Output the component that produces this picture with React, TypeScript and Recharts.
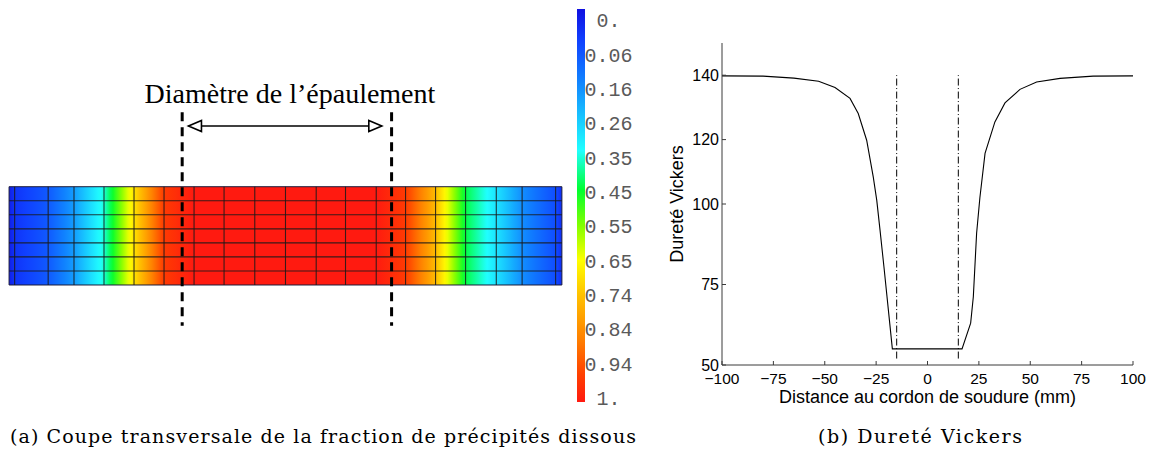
import React from 'react';
import {
  ComposedChart,
  LineChart,
  Line,
  XAxis,
  YAxis,
  ReferenceLine,
  ReferenceArea,
  ReferenceDot,
  Label,
} from 'recharts';

// ---------- (b) Vickers hardness profile ----------
const hardnessX = [-100, -80, -65, -53, -45, -37.7, -33.7, -29.6, -26.4, -24.7, -23.1, -21.2, -17.1, 16.8, 21, 22.3, 23.9, 25.5, 28, 32.8, 37.7, 45, 53.1, 64.5, 80.6, 100];
const hardnessY = [139.8, 139.7, 139.1, 138.1, 136.2, 132.8, 128.1, 119.8, 108.4, 101.2, 91.9, 80.5, 55, 55, 63, 71.2, 90.9, 102, 115.7, 125.5, 131.4, 135.6, 137.9, 139, 139.7, 139.8];
const hardnessTicksX = [-100, -75, -50, -25, 0, 25, 50, 75, 100];
const hardnessTicksY = [50, 75, 100, 120, 140];
const shoulderHalfWidth = [-15, 15];
const shoulderMarkRange = [52, 140];

// ---------- (a) cross section: mesh and dissolved-precipitate fraction ----------
const meshNodeX = [-39.6, -38.8, -34.0, -30.3, -26.0, -21.7, -17.4, -13.1, -8.8, -4.4, 0, 4.4, 8.6, 13.0, 17.2, 21.5, 25.8, 30.2, 33.9, 38.7, 39.6];
const nodeFraction = [0.02, 0.06, 0.12, 0.22, 0.38, 0.68, 0.94, 1, 1, 1, 1, 1, 1, 1, 0.94, 0.74, 0.45, 0.32, 0.2, 0.1, 0.05];
const meshRowY = [0, 2, 4, 6, 8, 10, 12, 14];
const shoulderEdgesX = [-14.8, 15.2];
const shoulderDashRange = [-5.8, 24.6];
const arrowEndsX = [-13.9, 13.8];
const arrowY = 22.65;
const titleAnchor = { x: 0.64, y: 27.3 };

// colour legend
const legendLabels = ['0.', '0.06', '0.16', '0.26', '0.35', '0.45', '0.55', '0.65', '0.74', '0.84', '0.94', '1.'];
const legendIndex = legendLabels.map((_, i) => i);

// colour map (fraction -> colour)
const cmapT = [0, 0.08, 0.18, 0.28, 0.36, 0.46, 0.55, 0.64, 0.73, 0.84, 0.93, 1];
const cmapRGB = [
  [16, 16, 224], [16, 64, 255], [16, 128, 255], [24, 200, 255], [32, 255, 255], [0, 255, 48],
  [128, 255, 0], [255, 255, 0], [255, 192, 0], [255, 128, 0], [255, 64, 0], [255, 26, 16],
];

// captions
const captionA = '(a) Coupe transversale de la fraction de précipités dissous';
const captionB = '(b) Dureté Vickers';

function colorAt(v: number): string {
  const t = Math.max(0, Math.min(1, v));
  let i = 0;
  while (i < cmapT.length - 2 && t > cmapT[i + 1]) i++;
  const f = (t - cmapT[i]) / (cmapT[i + 1] - cmapT[i]);
  const c = cmapRGB[i].map((a, k) => Math.round(a + (cmapRGB[i + 1][k] - a) * f));
  return `rgb(${c[0]},${c[1]},${c[2]})`;
}

const hardnessData = hardnessX.map((x, i) => ({ x, hv: hardnessY[i] }));
const meshData = meshNodeX.map((x, i) => ({ x, v: nodeFraction[i] }));
const legendData = legendIndex.map((i) => ({ i, c: i % 2 }));

function plateStops() {
  const x0 = meshNodeX[0];
  const xN = meshNodeX[meshNodeX.length - 1];
  const stops: { o: number; c: string }[] = [];
  for (let i = 0; i < meshNodeX.length - 1; i++) {
    const sub = 10;
    for (let k = 0; k <= sub; k++) {
      const x = meshNodeX[i] + ((meshNodeX[i + 1] - meshNodeX[i]) * k) / sub;
      const v = nodeFraction[i] + ((nodeFraction[i + 1] - nodeFraction[i]) * k) / sub;
      stops.push({ o: (x - x0) / (xN - x0), c: colorAt(v) });
    }
  }
  return stops;
}

const DoubleArrow = (props: any) => {
  const { x1, y1, x2, y2 } = props;
  const h = 13;
  const w = 5.5;
  const l = Math.min(x1, x2);
  const r = Math.max(x1, x2);
  return (
    <g>
      <line x1={l} y1={y1} x2={r} y2={y2} stroke="#000" strokeWidth={1.6} />
      <polygon points={`${l},${y1} ${l + h},${y1 - w} ${l + h},${y1 + w}`} fill="#fff" stroke="#000" strokeWidth={1.6} />
      <polygon points={`${r},${y2} ${r - h},${y2 - w} ${r - h},${y2 + w}`} fill="#fff" stroke="#000" strokeWidth={1.6} />
    </g>
  );
};

const LegendTick = (props: any) => {
  const { x, y, payload } = props;
  return (
    <text x={x + 23.5} y={y} dy="0.36em" textAnchor="middle" fontFamily="'Liberation Mono', 'DejaVu Sans Mono', monospace" fontSize={20} fill="#5a5a5a">
      {legendLabels[payload.value]}
    </text>
  );
};

const minusFmt = (v: number) => String(v).replace('-', '\u2212');

export default function App() {
  const stops = plateStops();
  const axisColor = '#3a3a3a';
  return (
    <div style={{ position: 'absolute', left: 0, top: 0, width: 1151, height: 455, background: '#fff', overflow: 'hidden', fontFamily: "'Liberation Sans', Arial, sans-serif" }}>
      {/* (a) cross section */}
      <div style={{ position: 'absolute', left: 0, top: 0 }}>
        <ComposedChart width={570} height={455} data={meshData} margin={{ top: 0, right: 0, bottom: 0, left: 0 }}>
          <defs>
            <linearGradient id="fractionField" x1="0" y1="0" x2="1" y2="0">
              {stops.map((s, i) => (
                <stop key={i} offset={s.o} stopColor={s.c} />
              ))}
            </linearGradient>
          </defs>
          <XAxis type="number" dataKey="x" domain={[-40.9, 40.76]} hide allowDataOverflow />
          <YAxis type="number" dataKey="v" domain={[-24.22, 40.6]} hide allowDataOverflow />
          <ReferenceArea
            x1={meshNodeX[0]}
            x2={meshNodeX[meshNodeX.length - 1]}
            y1={meshRowY[0]}
            y2={meshRowY[meshRowY.length - 1]}
            fill="url(#fractionField)"
            fillOpacity={1}
            stroke="#1c1c3a"
            strokeWidth={1}
          />
          {meshNodeX.slice(1, -1).map((x, i) => (
            <ReferenceLine
              key={'v' + i}
              segment={[{ x, y: meshRowY[0] }, { x, y: meshRowY[meshRowY.length - 1] }]}
              stroke="#1a1a1a"
              strokeOpacity={0.85}
              strokeWidth={1.1}
            />
          ))}
          {meshRowY.slice(1, -1).map((y, i) => (
            <ReferenceLine
              key={'h' + i}
              segment={[{ x: meshNodeX[0], y }, { x: meshNodeX[meshNodeX.length - 1], y }]}
              stroke="#1a1a1a"
              strokeOpacity={0.85}
              strokeWidth={1.1}
            />
          ))}
          {shoulderEdgesX.map((x, i) => (
            <ReferenceLine
              key={'s' + i}
              segment={[{ x, y: shoulderDashRange[1] }, { x, y: shoulderDashRange[0] }]}
              stroke="#000"
              strokeWidth={3}
              strokeDasharray="9 6"
            />
          ))}
          <ReferenceLine
            segment={[{ x: arrowEndsX[0], y: arrowY }, { x: arrowEndsX[1], y: arrowY }]}
            shape={DoubleArrow}
          />
          <ReferenceDot x={titleAnchor.x} y={titleAnchor.y} r={1} fill="none" stroke="none">
            <Label
              value="Diamètre de l’épaulement"
              position="center"
              style={{ fontFamily: "'Liberation Serif', 'Times New Roman', serif", fontSize: 28, fill: '#000' }}
            />
          </ReferenceDot>
        </ComposedChart>
      </div>

      {/* colour legend */}
      <div style={{ position: 'absolute', left: 560, top: 0 }}>
        <ComposedChart width={90} height={455} data={legendData} margin={{ top: 9, right: 0, bottom: 53, left: 17 }}>
          <defs>
            <linearGradient id="legendScale" x1="0" y1="0" x2="0" y2="1">
              {cmapT.map((t, i) => (
                <stop key={i} offset={t} stopColor={colorAt(t)} />
              ))}
            </linearGradient>
          </defs>
          <XAxis type="number" dataKey="c" domain={[0, 1]} hide allowDataOverflow />
          <YAxis
            type="number"
            dataKey="i"
            orientation="right"
            reversed
            width={65}
            domain={[-0.32, 11.12]}
            ticks={legendIndex}
            interval={0}
            axisLine={false}
            tickLine={false}
            tickSize={0}
            tickMargin={0}
            tick={LegendTick}
            allowDataOverflow
          />
          <ReferenceArea x1={0} x2={1} y1={-0.32} y2={11.12} fill="url(#legendScale)" fillOpacity={1} stroke="none" ifOverflow="visible" />
        </ComposedChart>
      </div>

      {/* (b) hardness */}
      <div style={{ position: 'absolute', left: 620, top: 0 }}>
        <LineChart width={531} height={455} data={hardnessData} margin={{ top: 43, right: 18, bottom: 27, left: 12 }}>
          <XAxis
            type="number"
            dataKey="x"
            domain={[-100, 100]}
            ticks={hardnessTicksX}
            interval={0}
            height={63}
            tickFormatter={minusFmt}
            stroke={axisColor}
            tickSize={-4}
            tickMargin={12}
            tick={{ fontSize: 15.5, fill: '#000' }}
          >
            <Label value="Distance au cordon de soudure (mm)" position="center" style={{ fontSize: 18, fill: '#000' }} />
          </XAxis>
          <YAxis
            type="number"
            domain={[50, 150]}
            ticks={hardnessTicksY}
            interval={0}
            width={90}
            stroke={axisColor}
            tickSize={-4}
            tickMargin={7}
            tick={{ fontSize: 16, fill: '#000' }}
          >
            <Label value="Dureté Vickers" angle={-90} position="center" style={{ fontSize: 18, fill: '#000' }} />
          </YAxis>
          {shoulderHalfWidth.map((x, i) => (
            <ReferenceLine
              key={i}
              segment={[{ x, y: shoulderMarkRange[0] }, { x, y: shoulderMarkRange[1] }]}
              stroke="#000"
              strokeWidth={1}
              strokeDasharray="7 2.5 1 2.5"
            />
          ))}
          <Line type="linear" dataKey="hv" stroke="#000" strokeWidth={1.1} dot={false} isAnimationActive={false} />
        </LineChart>
      </div>

      {/* captions */}
      <svg width={1151} height={40} style={{ position: 'absolute', left: 0, top: 415 }}>
        <text x={10} y={28} textLength={626} lengthAdjust="spacing" fontFamily="'DejaVu Serif', serif" fontSize={19} fill="#000">
          {captionA}
        </text>
        <text x={818} y={28} textLength={204} lengthAdjust="spacing" fontFamily="'DejaVu Serif', serif" fontSize={19} fill="#000">
          {captionB}
        </text>
      </svg>
    </div>
  );
}
